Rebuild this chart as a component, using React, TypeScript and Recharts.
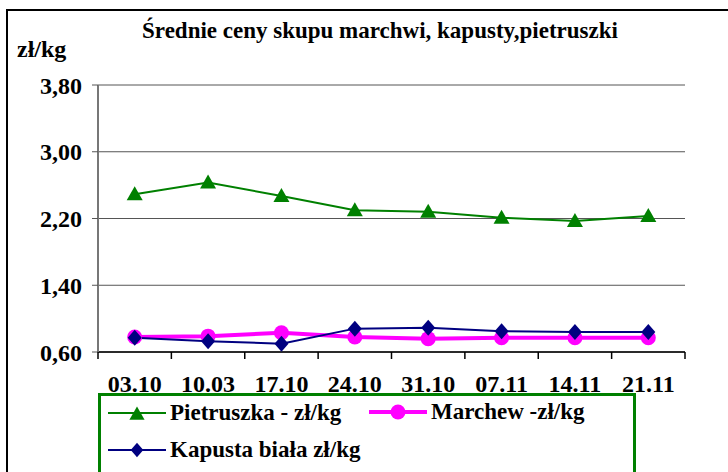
import { LineChart, Line, XAxis, YAxis, CartesianGrid } from 'recharts'

const dates = ['03.10', '10.03', '17.10', '24.10', '31.10', '07.11', '14.11', '21.11']
const pietruszka = [2.49, 2.63, 2.47, 2.3, 2.28, 2.21, 2.17, 2.23]
const marchew = [0.78, 0.79, 0.83, 0.78, 0.76, 0.77, 0.77, 0.77]
const kapusta = [0.77, 0.73, 0.7, 0.88, 0.89, 0.85, 0.84, 0.84]
const yTicks = [0.6, 1.4, 2.2, 3.0, 3.8]

const TITLE = 'Średnie ceny skupu marchwi, kapusty,pietruszki'
const UNIT = 'zł/kg'
const FONT = '"Liberation Serif", "Times New Roman", serif'

const data = dates.map((d, i) => ({ date: d, pietruszka: pietruszka[i], marchew: marchew[i], kapusta: kapusta[i] }))

// plot box: x 98..685, y 85..352
const PLOT_W = 587
const BAND = PLOT_W / dates.length

function triangle(cx: number, cy: number, s = 1) {
  return `M${cx},${cy - 8 * s}L${cx + 8 * s},${cy + 6 * s}L${cx - 8 * s},${cy + 6 * s}Z`
}
function diamond(cx: number, cy: number, s = 1) {
  return `M${cx},${cy - 8 * s}L${cx + 7 * s},${cy}L${cx},${cy + 8 * s}L${cx - 7 * s},${cy}Z`
}

const TriangleDot = (p: any) => {
  if (p.cx == null || p.cy == null) return <g key={p.key} />
  return <path key={p.key} d={triangle(p.cx, p.cy)} fill="#008000" />
}
const CircleDot = (p: any) => {
  if (p.cx == null || p.cy == null) return <g key={p.key} />
  return <circle key={p.key} cx={p.cx} cy={p.cy} r={7.5} fill="#FF00FF" />
}
const DiamondDot = (p: any) => {
  if (p.cx == null || p.cy == null) return <g key={p.key} />
  return <path key={p.key} d={diamond(p.cx, p.cy)} fill="#000080" />
}

// Excel style: tick marks between categories, labels centred in each band
function DateTick(props: any) {
  const { x, y, payload, index } = props
  const half = payload?.offset || BAND / 2
  return (
    <g>
      <line x1={x - half} x2={x - half} y1={y} y2={y + 7} stroke="#000" strokeWidth={1.5} />
      {index === dates.length - 1 && (
        <line x1={x + half} x2={x + half} y1={y} y2={y + 7} stroke="#000" strokeWidth={1.5} />
      )}
      <text x={x} y={y + 40} textAnchor="middle" fontFamily={FONT} fontWeight="bold" fontSize={24} fill="#000">
        {payload.value}
      </text>
    </g>
  )
}

function LegendIcon({ kind }: { kind: 'tri' | 'circle' | 'diamond' }) {
  const color = kind === 'tri' ? '#008000' : kind === 'circle' ? '#FF00FF' : '#000080'
  return (
    <svg width={58} height={20} style={{ display: 'block' }}>
      <line x1={0} x2={58} y1={10} y2={10} stroke={color} strokeWidth={kind === 'circle' ? 4 : 2} />
      {kind === 'tri' && <path d={triangle(29, 11, 0.95)} fill={color} />}
      {kind === 'circle' && <circle cx={29} cy={10} r={7.5} fill={color} />}
      {kind === 'diamond' && <path d={diamond(29, 10, 0.9)} fill={color} />}
    </svg>
  )
}

const legendItems = [
  { label: 'Pietruszka - zł/kg', kind: 'tri' as const, left: 108, top: 400 },
  { label: 'Marchew -zł/kg', kind: 'circle' as const, left: 369, top: 399 },
  { label: 'Kapusta biała zł/kg', kind: 'diamond' as const, left: 108, top: 437 },
]

const textStyle = { fontFamily: FONT, fontWeight: 'bold' as const, color: '#000', position: 'absolute' as const, whiteSpace: 'nowrap' as const }

export default function App() {
  return (
    <div style={{ position: 'absolute', left: 0, top: 0, width: 728, height: 472, overflow: 'hidden', background: '#fff' }}>
      <div style={{ position: 'absolute', left: 6, top: 9, width: 760, height: 500, border: '2px solid #000', boxSizing: 'border-box' }} />
      <div style={{ ...textStyle, left: 0, width: 760, top: 18, textAlign: 'center', fontSize: 23 }}>{TITLE}</div>
      <div style={{ ...textStyle, left: 17, top: 36, fontSize: 24 }}>{UNIT}</div>
      <div style={{ position: 'absolute', left: 0, top: 0 }}>
        <LineChart width={728} height={472} data={data} margin={{ top: 85, right: 43, left: 0, bottom: 70 }}>
          <CartesianGrid vertical={false} stroke="#555" />
          <XAxis
            dataKey="date"
            interval={0}
            height={50}
            padding={{ left: BAND / 2, right: BAND / 2 }}
            tickSize={0}
            tickMargin={0}
            tickLine={false}
            axisLine={{ stroke: '#000', strokeWidth: 1.5 }}
            tick={<DateTick />}
          />
          <YAxis
            domain={[0.6, 3.8]}
            ticks={yTicks}
            width={98}
            tickSize={6}
            tickMargin={10}
            tickFormatter={(v: number) => v.toFixed(2).replace('.', ',')}
            axisLine={{ stroke: '#777', strokeWidth: 2 }}
            tickLine={{ stroke: '#555' }}
            tick={{ fill: '#000', fontSize: 24, fontWeight: 'bold', fontFamily: FONT }}
          />
          <YAxis yAxisId="border" orientation="right" width={0} tick={false} tickLine={false} axisLine={{ stroke: '#888', strokeWidth: 2 }} />
          <Line dataKey="pietruszka" stroke="#008000" strokeWidth={2} dot={TriangleDot} isAnimationActive={false} />
          <Line dataKey="marchew" stroke="#FF00FF" strokeWidth={4} dot={CircleDot} isAnimationActive={false} />
          <Line dataKey="kapusta" stroke="#000080" strokeWidth={2} dot={DiamondDot} isAnimationActive={false} />
        </LineChart>
      </div>
      <div style={{ position: 'absolute', left: 98, top: 393, width: 538, height: 100, border: '3px solid #008000', boxSizing: 'border-box' }} />
      {legendItems.map((it) => (
        <div key={it.label} style={{ position: 'absolute', left: it.left, top: it.top, display: 'flex', alignItems: 'center', gap: 4 }}>
          <LegendIcon kind={it.kind} />
          <span style={{ fontFamily: FONT, fontWeight: 'bold', fontSize: 23, color: '#000', whiteSpace: 'nowrap' }}>{it.label}</span>
        </div>
      ))}
    </div>
  )
}
